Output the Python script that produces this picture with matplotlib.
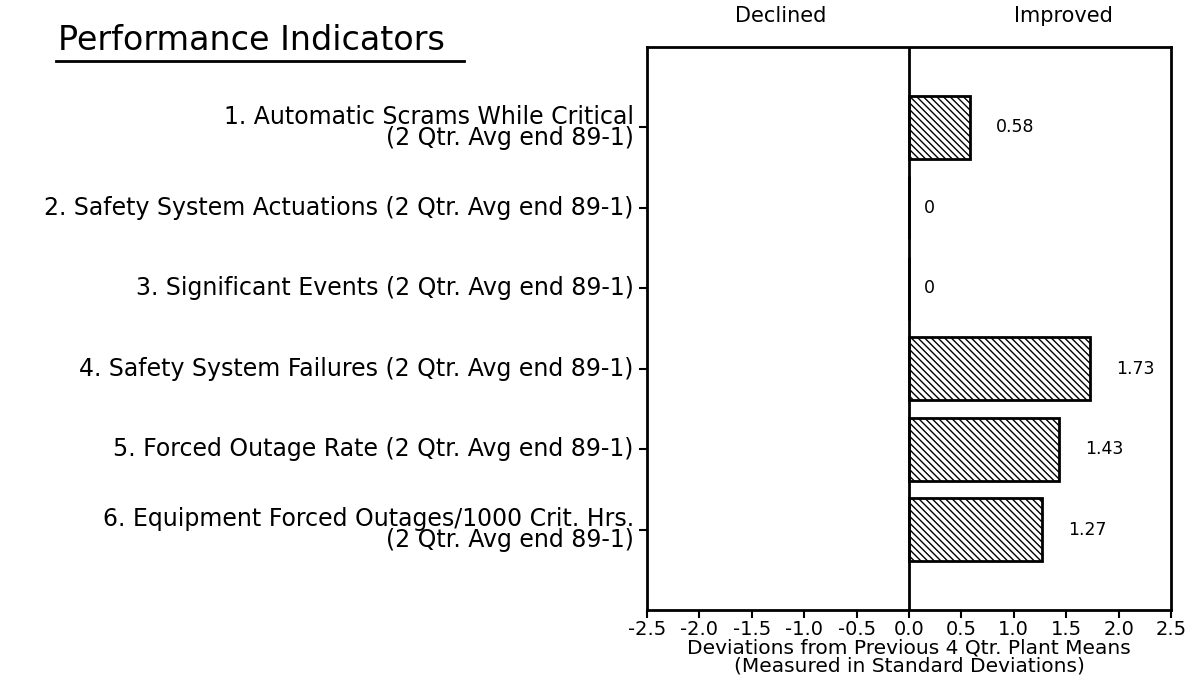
import matplotlib
matplotlib.use('Agg')
import matplotlib.pyplot as plt
import matplotlib.transforms as mtransforms
import numpy as np

# data
indicators = [
    '1. Automatic Scrams While Critical\n(2 Qtr. Avg end 89-1)',
    '2. Safety System Actuations (2 Qtr. Avg end 89-1)',
    '3. Significant Events (2 Qtr. Avg end 89-1)',
    '4. Safety System Failures (2 Qtr. Avg end 89-1)',
    '5. Forced Outage Rate (2 Qtr. Avg end 89-1)',
    '6. Equipment Forced Outages/1000 Crit. Hrs.\n(2 Qtr. Avg end 89-1)',
]
deviations = [0.58, 0, 0, 1.73, 1.43, 1.27]
value_labels = ['0.58', '0', '0', '1.73', '1.43', '1.27']
xticks = [-2.5, -2.0, -1.5, -1.0, -0.5, 0.0, 0.5, 1.0, 1.5, 2.0, 2.5]

plt.rcParams['font.family'] = ['DejaVu Sans']
plt.rcParams['hatch.linewidth'] = 1.0

W, H = 1193, 684
fig = plt.figure(figsize=(W / 100, H / 100), dpi=100)
ax = fig.add_axes([647 / W, (H - 610) / H, 524 / W, 563 / H])

pos = np.arange(len(deviations))
ax.barh(pos, deviations, height=0.78, color='white', edgecolor='black',
        linewidth=2, hatch='\\\\\\\\\\')
ax.axvline(0, color='black', linewidth=2)

for y, v, lab in zip(pos, deviations, value_labels):
    off = 15 if v == 0 else 26
    ax.annotate(lab, (v, y), xytext=(off, 0), textcoords='offset pixels',
                va='center', ha='left', fontsize=12.5)

ax.set_xlim(-2.5, 2.5)
ax.set_ylim(len(deviations), -1)
ax.set_xticks(xticks)
ax.set_xticklabels(['%.1f' % t for t in xticks], fontsize=14)
ax.set_yticks(pos)
ax.set_yticklabels(indicators, fontsize=17, ha='right', multialignment='right',
                   linespacing=0.85)
# two-line labels sit with their second line on the tick
down = mtransforms.ScaledTranslation(0, -9 / 100, fig.dpi_scale_trans)
up = mtransforms.ScaledTranslation(0, 2 / 100, fig.dpi_scale_trans)
for lbl in ax.get_yticklabels():
    lbl.set_va('center')
    if '\n' in lbl.get_text():
        lbl.set_transform(lbl.get_transform() + down)
    else:
        lbl.set_transform(lbl.get_transform() + up)

ax.tick_params(axis='both', direction='out', length=6, width=1.5, color='black')
ax.tick_params(axis='x', pad=1)
for s in ax.spines.values():
    s.set_linewidth(2)

ax.set_xlabel('Deviations from Previous 4 Qtr. Plant Means\n(Measured in Standard Deviations)',
              fontsize=14.5, labelpad=0, linespacing=0.9)

ax.text(0.255, 1.055, 'Declined', transform=ax.transAxes, ha='center', va='center', fontsize=15)
ax.text(0.795, 1.055, 'Improved', transform=ax.transAxes, ha='center', va='center', fontsize=15)

fig.text(58 / W, 1 - 40 / H, 'Performance Indicators', fontsize=24, ha='left', va='center')
fig.add_artist(plt.Line2D([56 / W, 464 / W], [1 - 61 / H, 1 - 61 / H], color='black', linewidth=2))

fig.savefig('out.png', dpi=100)
